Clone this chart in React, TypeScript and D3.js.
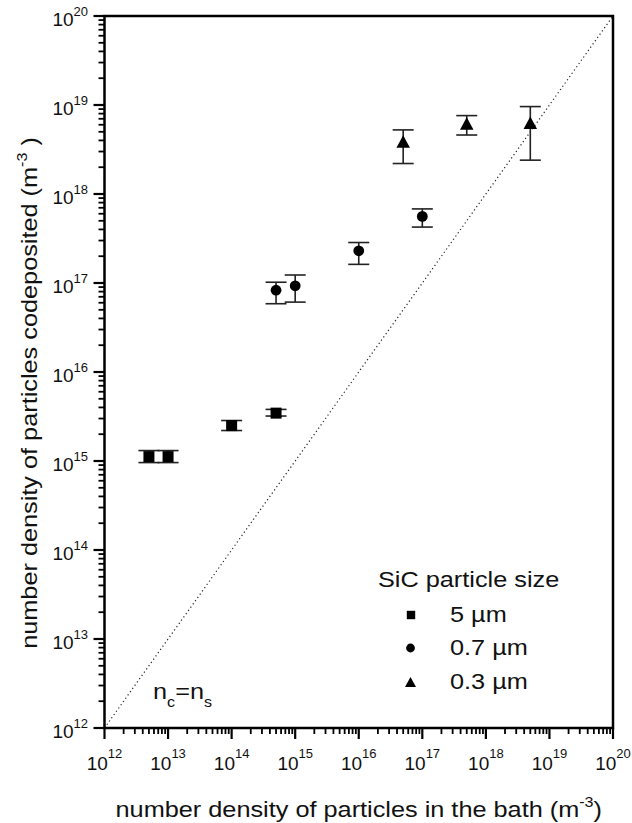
import React from "react";
import * as d3 from "d3";

const W = 632;
const H = 823;
const FONT = "'Liberation Sans', Arial, sans-serif";
const SX = 1.15;

const xDecades = [12, 13, 14, 15, 16, 17, 18, 19, 20];
const yDecades = [12, 13, 14, 15, 16, 17, 18, 19, 20];

const squareX = [5e12, 1e13, 1e14, 5e14];
const squareY = [1.12e15, 1.12e15, 2.5e15, 3.45e15];
const squareLo = [0.96e15, 0.96e15, 2.2e15, 3.2e15];
const squareHi = [1.31e15, 1.31e15, 2.85e15, 3.8e15];

const circleX = [5e14, 1e15, 1e16, 1e17];
const circleY = [8.3e16, 9.3e16, 2.3e17, 5.6e17];
const circleLo = [5.85e16, 6.1e16, 1.62e17, 4.25e17];
const circleHi = [1.02e17, 1.23e17, 2.85e17, 6.8e17];

const triX = [5e16, 5e17, 5e18];
const triY = [3.9e18, 6.2e18, 6.3e18];
const triLo = [2.2e18, 4.6e18, 2.4e18];
const triHi = [5.25e18, 7.6e18, 9.6e18];

const legendTitle = "SiC particle size";
const legendLabels = ["5 µm", "0.7 µm", "0.3 µm"];

const L = 104.5, R = 613, T = 16, B = 728;

export default function App() {
  const x = d3.scaleLog().domain([1e12, 1e20]).range([L, R]);
  const y = d3.scaleLog().domain([1e12, 1e20]).range([B, T]);

  const minor: number[] = [];
  for (let d = 12; d < 20; d++) for (let m = 2; m <= 9; m++) minor.push(m * Math.pow(10, d));

  const cap = 10.5;
  const errBars = (xs: number[], lo: number[], hi: number[], key: string) =>
    xs.map((v, i) => (
      <g key={key + i} stroke="#222" strokeWidth={1.6}>
        <line x1={x(v)} x2={x(v)} y1={y(lo[i])} y2={y(hi[i])} />
        <line x1={x(v) - cap} x2={x(v) + cap} y1={y(lo[i])} y2={y(lo[i])} />
        <line x1={x(v) - cap} x2={x(v) + cap} y1={y(hi[i])} y2={y(hi[i])} />
      </g>
    ));

  const tri = (cx: number, cy: number, w: number, h: number) =>
    `M${cx},${cy - h / 2}L${cx + w / 2},${cy + h / 2}L${cx - w / 2},${cy + h / 2}Z`;

  const legendRows = [620, 653, 687];

  return (
    <svg width={W} height={H} style={{ position: "absolute", left: 0, top: 0, background: "#fff" }} fontFamily={FONT}>
      {/* diagonal n_c = n_s */}
      <line x1={x(1e12)} y1={y(1e12)} x2={x(1e20)} y2={y(1e20)} stroke="#222" strokeWidth={1.2} strokeDasharray="1.2,2.8" />

      {/* frame */}
      <rect x={L} y={T} width={R - L} height={B - T} fill="none" stroke="#000" strokeWidth={2.5} />

      {/* x ticks */}
      {xDecades.map((d) => (
        <line key={"xt" + d} x1={x(Math.pow(10, d))} x2={x(Math.pow(10, d))} y1={B} y2={B + 11} stroke="#000" strokeWidth={2.2} />
      ))}
      {minor.map((v) => (
        <line key={"xm" + v} x1={x(v)} x2={x(v)} y1={B} y2={B + 6} stroke="#000" strokeWidth={1.8} />
      ))}
      {/* y ticks */}
      {yDecades.map((d) => (
        <line key={"yt" + d} x1={L - 11} x2={L} y1={y(Math.pow(10, d))} y2={y(Math.pow(10, d))} stroke="#000" strokeWidth={2.2} />
      ))}
      {minor.map((v) => (
        <line key={"ym" + v} x1={L - 6} x2={L} y1={y(v)} y2={y(v)} stroke="#000" strokeWidth={1.8} />
      ))}

      {/* x tick labels */}
      {xDecades.map((d) => (
        <text key={"xl" + d} x={x(Math.pow(10, d))} y={770} textAnchor="middle" fontSize={19} fill="#111">
          10<tspan fontSize={13} dy={-12}>{d}</tspan>
        </text>
      ))}
      {/* y tick labels */}
      {yDecades.map((d) => (
        <text key={"yl" + d} x={88} y={y(Math.pow(10, d)) + 10} textAnchor="end" fontSize={19} fill="#111">
          10<tspan fontSize={13} dy={-10}>{d}</tspan>
        </text>
      ))}

      {/* axis titles */}
      <g transform={`translate(${(L + R) / 2},817) scale(${SX},1)`}>
        <text x={0} y={0} textAnchor="middle" fontSize={22} fill="#111">
          number density of particles in the bath (m<tspan fontSize={14} dy={-10}>-3</tspan><tspan dy={10}>)</tspan>
        </text>
      </g>
      <g transform={`translate(37,393) rotate(-90) scale(${SX},1)`}>
        <text x={0} y={0} textAnchor="middle" fontSize={22} fill="#111">
          number density of particles codeposited (m<tspan fontSize={14} dy={-10}>-3</tspan><tspan dy={10}> )</tspan>
        </text>
      </g>

      {/* n_c = n_s */}
      <g transform={`translate(153,699) scale(${SX},1)`}>
        <text x={0} y={0} fontSize={22} fill="#111">
          n<tspan fontSize={14} dy={8}>c</tspan><tspan dy={-8}>=n</tspan><tspan fontSize={14} dy={8}>s</tspan>
        </text>
      </g>

      {/* error bars */}
      {errBars(squareX, squareLo, squareHi, "es")}
      {errBars(circleX, circleLo, circleHi, "ec")}
      {errBars(triX, triLo, triHi, "et")}

      {/* markers */}
      {squareX.map((v, i) => (
        <rect key={"s" + i} x={x(v) - 5.5} y={y(squareY[i]) - 5.5} width={11} height={11} fill="#000" />
      ))}
      {circleX.map((v, i) => (
        <circle key={"c" + i} cx={x(v)} cy={y(circleY[i])} r={5.4} fill="#000" />
      ))}
      {triX.map((v, i) => (
        <path key={"t" + i} d={tri(x(v), y(triY[i]), 13.5, 12.5)} fill="#000" />
      ))}

      {/* legend */}
      <g transform={`translate(378,587) scale(${SX},1)`}>
        <text x={0} y={0} fontSize={22} fill="#111">{legendTitle}</text>
      </g>
      <rect x={411 - 4.2} y={legendRows[0] - 5 - 4.2} width={8.4} height={8.4} fill="#000" />
      <circle cx={410.5} cy={legendRows[1] - 5} r={4.4} fill="#000" />
      <path d={tri(410.5, legendRows[2] - 5, 11, 10)} fill="#000" />
      {legendLabels.map((t, i) => (
        <g key={"lg" + i} transform={`translate(450,${legendRows[i] + 2}) scale(${SX},1)`}>
          <text x={0} y={0} fontSize={22} fill="#111">{t}</text>
        </g>
      ))}
    </svg>
  );
}
